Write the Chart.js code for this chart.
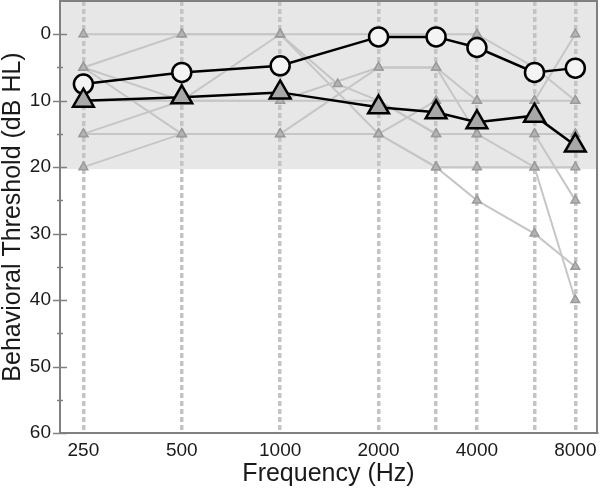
<!DOCTYPE html>
<html>
<head>
<meta charset="utf-8">
<title>Behavioral thresholds</title>
<script src="https://cdn.jsdelivr.net/npm/chart.js@4.4.1/dist/chart.umd.min.js"></script>
<style>
  html, body { margin: 0; padding: 0; background: #fff; }
  #wrap { width: 600px; height: 490px; }
</style>
</head>
<body>
<div id="wrap"><canvas id="audiogram"></canvas></div>
<script>
// frequencies (Hz) and thresholds (dB HL); null = not measured
const freqs = [250, 500, 1000, 1500, 2000, 3000, 4000, 6000, 8000];
const gridFreqs = [250, 500, 1000, 2000, 3000, 4000, 6000, 8000];
const labeledFreqs = [250, 500, 1000, 2000, 4000, 8000];
const yTicks = [0, 10, 20, 30, 40, 50, 60];

const meanCircle   = [7.5, 5.75, 4.75, null, 0.4, 0.4, 2, 5.75, 5.1];
const meanTriangle = [10, 9.5, 8.75, null, 11, 11.75, 13.25, 12.25, 16.75];

const subj1 = [0, 0, 0, null, 0, 0, 0, 5, 10];
const subj2 = [5, 0, 0, 7.5, 10, 15, 15, 20, 40];
const subj3 = [5, 15, 15, null, 15, 20, 25, 30, 35];
const subj4 = [10, 10, 10, null, 10, 15, 15, 15, 25];
const subj5 = [15, 15, 15, null, 15, 20, 20, 20, 20];
const subj6 = [5, 10, 0, null, 15, 10, 10, 10, 0];
const subj7 = [20, 15, 15, null, 5, 5, 15, 15, 15];
const subj8 = [15, 10, 10, null, 5, 5, 10, 10, 10];
const subjects = [subj1, subj2, subj3, subj4, subj5, subj6, subj7, subj8];

function pts(arr) {
  return freqs.map((f, i) => ({ x: f, y: arr[i] })).filter(p => p.y !== null);
}

const datasets = [];
datasets.push({
  data: pts(meanTriangle), order: 0, showLine: true,
  borderColor: '#000', borderWidth: 2.5,
  pointStyle: 'triangle', pointRadius: 12, pointBackgroundColor: '#a8a8a8',
  pointBorderColor: '#000', pointBorderWidth: 2.5
});
datasets.push({
  data: pts(meanCircle), order: 1, showLine: true,
  borderColor: '#000', borderWidth: 2.5,
  pointStyle: 'circle', pointRadius: 9.5, pointBackgroundColor: '#f4f4f4',
  pointBorderColor: '#000', pointBorderWidth: 2.5
});
subjects.forEach(s => datasets.push({
  data: pts(s), order: 2, showLine: true,
  borderColor: '#c6c6c6', borderWidth: 2,
  pointStyle: 'triangle', pointRadius: 5, pointBackgroundColor: '#b4b4b4',
  pointBorderColor: '#9a9a9a', pointBorderWidth: 1.5
}));

const decor = {
  id: 'decor',
  beforeDraw(chart) {
    const { ctx, chartArea: a, scales: { y } } = chart;
    ctx.save();
    ctx.fillStyle = '#e7e7e7';
    const yb = y.getPixelForValue(20.3);
    ctx.fillRect(a.left, a.top, a.right - a.left, yb - a.top);
    ctx.restore();
  },
  afterDraw(chart) {
    const { ctx, chartArea: a, scales: { y } } = chart;
    ctx.save();
    ctx.strokeStyle = '#808080';
    ctx.lineWidth = 2;
    ctx.beginPath();
    ctx.moveTo(a.left, a.top);
    ctx.lineTo(a.right, a.top);
    ctx.lineTo(a.right, a.bottom);
    ctx.stroke();
    ctx.lineWidth = 1.5;
    for (let v = 0; v <= 60; v += 5) {
      const py = Math.round(y.getPixelForValue(v)) + 0.5;
      const half = v % 10 === 0 ? 7 : 3;
      ctx.beginPath();
      ctx.moveTo(a.left - half, py);
      ctx.lineTo(a.left + half, py);
      ctx.stroke();
    }
    ctx.restore();
  }
};

const font = 'Liberation Sans, Arial, sans-serif';

new Chart(document.getElementById('audiogram'), {
  type: 'scatter',
  data: { datasets: datasets },
  options: {
    responsive: true,
    maintainAspectRatio: false,
    animation: false,
    layout: { autoPadding: false, padding: { top: 1, right: 3, left: 0, bottom: 0 } },
    plugins: { legend: { display: false }, tooltip: { enabled: false } },
    scales: {
      x: {
        type: 'logarithmic', min: 212, max: 9320,
        afterBuildTicks: axis => { axis.ticks = gridFreqs.map(v => ({ value: v })); },
        afterFit: axis => { axis.height = 57; axis.paddingLeft = 0; axis.paddingRight = 0; },
        grid: { color: '#c4c4c4', lineWidth: 3.5, drawTicks: false },
        border: { display: true, color: '#808080', width: 2, dash: [5, 3] },
        ticks: {
          autoSkip: false, maxRotation: 0, padding: 6, color: '#1a1a1a',
          font: { family: font, size: 19 },
          callback: v => labeledFreqs.includes(v) ? String(v) : ''
        },
        title: {
          display: true, text: 'Frequency (Hz)', color: '#1a1a1a',
          font: { family: font, size: 25, lineHeight: 1 },
          padding: { top: 0, bottom: 3 }
        }
      },
      y: {
        type: 'linear', min: -5, max: 60, reverse: true,
        afterBuildTicks: axis => { axis.ticks = yTicks.map(v => ({ value: v })); },
        afterFit: axis => { axis.width = 60; axis.paddingTop = 0; axis.paddingBottom = 0; },
        grid: { display: false, drawTicks: false },
        border: { display: true, color: '#808080', width: 2 },
        ticks: {
          padding: 9, color: '#1a1a1a',
          font: { family: font, size: 19 }
        },
        title: {
          display: true, text: 'Behavioral Threshold (dB HL)', color: '#1a1a1a',
          font: { family: font, size: 25, lineHeight: 1 },
          padding: { top: 1, bottom: 0 }
        }
      }
    }
  },
  plugins: [decor]
});
</script>
</body>
</html>
